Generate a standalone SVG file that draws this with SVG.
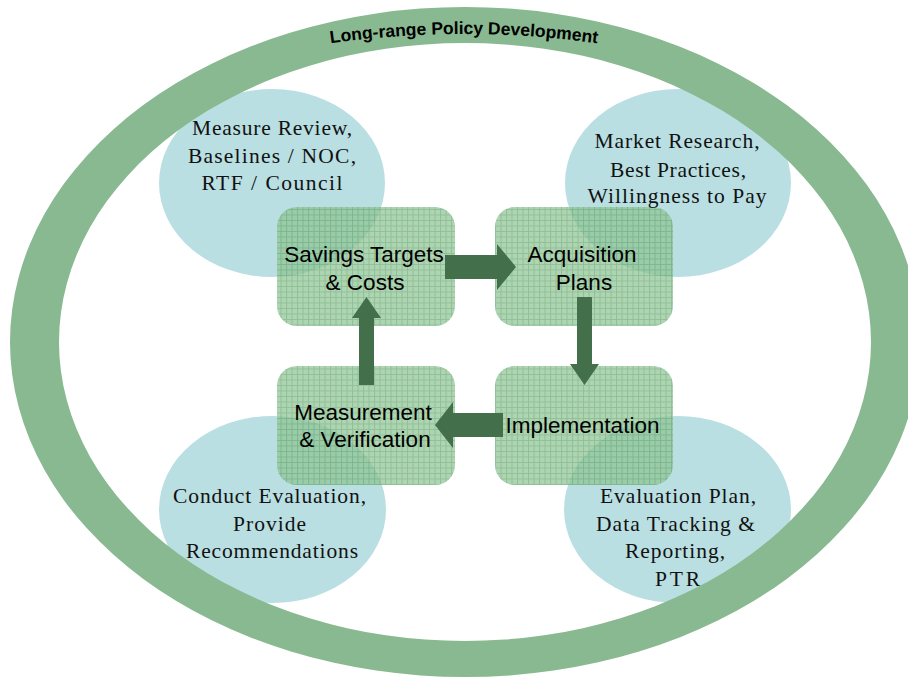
<svg xmlns="http://www.w3.org/2000/svg" width="908" height="677" viewBox="0 0 908 677">
  <defs>
    <style>
      .bubble { fill: #b9dfe2; }
      .note { font-family: "Liberation Serif", "Times New Roman", serif; font-size: 21.5px; fill: #111; text-anchor: middle; }
      .step { fill: url(#mesh); opacity: 0.72; }
      .label { font-family: "Liberation Sans", Arial, sans-serif; font-size: 22.5px; fill: #000; text-anchor: middle; }
      .arrow { fill: #436f4b; }
      .ring { fill: #89b991; fill-rule: evenodd; }
      .title { font-family: "Liberation Sans", Arial, sans-serif; font-size: 17.5px; font-weight: bold; fill: #000; }
    </style>
    <!-- fine green mesh used to fill the process steps -->
    <pattern id="mesh" width="5.5" height="5.5" patternUnits="userSpaceOnUse">
      <rect width="5.5" height="5.5" fill="#8ec492"/>
      <path d="M0 0.5H5.5M0.5 0V5.5" stroke="#66a670" stroke-width="1"/>
    </pattern>
    <path id="titleArc" d="M289,50 Q464,18 639,50"/>
  </defs>

  <!-- supporting activities -->
  <g id="bubble-review"><ellipse class="bubble" cx="272" cy="183" rx="113" ry="94"/></g>
  <g id="bubble-market"><ellipse class="bubble" cx="678" cy="183" rx="113" ry="94"/></g>
  <g id="bubble-evaluation"><ellipse class="bubble" cx="272.5" cy="509.5" rx="113.5" ry="93.5"/></g>
  <g id="bubble-tracking"><ellipse class="bubble" cx="677.5" cy="509.5" rx="113.5" ry="93.5"/></g>

  <!-- outer policy ring -->
  <g id="policy-ring">
    <path class="ring" d="M10,342 A455,335 0 1,0 920,342 A455,335 0 1,0 10,342 Z M59,342 A406,299 0 1,0 871,342 A406,299 0 1,0 59,342 Z"/>
  </g>

  <!-- process steps -->
  <g id="step-targets"><rect class="step" x="277" y="207" width="178" height="119" rx="20"/></g>
  <g id="step-acquisition"><rect class="step" x="495" y="207" width="178" height="119" rx="20"/></g>
  <g id="step-implementation"><rect class="step" x="495" y="366" width="178" height="119" rx="20"/></g>
  <g id="step-verification"><rect class="step" x="277" y="366" width="178" height="119" rx="20"/></g>

  <!-- cycle connectors -->
  <g id="connectors">
    <path class="arrow" d="M445,255 H497 V244 L516,267 L497,290 V279 H445 Z"/>
    <path class="arrow" d="M577,297 V364 H570 L584.5,385 L599,364 H592 V297 Z"/>
    <path class="arrow" d="M503,413 H453 V402 L435,425 L453,448 V437 H503 Z"/>
    <path class="arrow" d="M359,385 V318 H352 L366.5,297 L381,318 H374 V385 Z"/>
  </g>

  <!-- step labels -->
  <g id="labels">
    <text class="label" x="364" y="262">Savings Targets</text>
    <text class="label" x="365" y="290">&amp; Costs</text>
    <text class="label" x="582" y="262">Acquisition</text>
    <text class="label" x="584" y="290">Plans</text>
    <text class="label" x="582.5" y="433">Implementation</text>
    <text class="label" x="363" y="420">Measurement</text>
    <text class="label" x="365" y="447">&amp; Verification</text>
  </g>

  <!-- activity notes -->
  <g id="notes">
    <text class="note" x="272" y="135" textLength="160" lengthAdjust="spacing">Measure Review,</text>
    <text class="note" x="272" y="163" textLength="168" lengthAdjust="spacing">Baselines / NOC,</text>
    <text class="note" x="272" y="190" textLength="141" lengthAdjust="spacing">RTF / Council</text>

    <text class="note" x="677" y="148" textLength="165" lengthAdjust="spacing">Market Research,</text>
    <text class="note" x="678" y="177" textLength="136" lengthAdjust="spacing">Best Practices,</text>
    <text class="note" x="677" y="203" textLength="179" lengthAdjust="spacing">Willingness to Pay</text>

    <text class="note" x="269.5" y="503" textLength="193" lengthAdjust="spacing">Conduct Evaluation,</text>
    <text class="note" x="269.5" y="531" textLength="73" lengthAdjust="spacing">Provide</text>
    <text class="note" x="272" y="558" textLength="172" lengthAdjust="spacing">Recommendations</text>

    <text class="note" x="678" y="503" textLength="156" lengthAdjust="spacing">Evaluation Plan,</text>
    <text class="note" x="675.5" y="531" textLength="159" lengthAdjust="spacing">Data Tracking &amp;</text>
    <text class="note" x="675" y="558" textLength="100" lengthAdjust="spacing">Reporting,</text>
    <text class="note" x="677.5" y="586" textLength="45" lengthAdjust="spacing">PTR</text>
  </g>

  <!-- ring caption -->
  <g id="ring-title">
    <text class="title"><textPath href="#titleArc" startOffset="50%" text-anchor="middle">Long-range Policy Development</textPath></text>
  </g>
</svg>
